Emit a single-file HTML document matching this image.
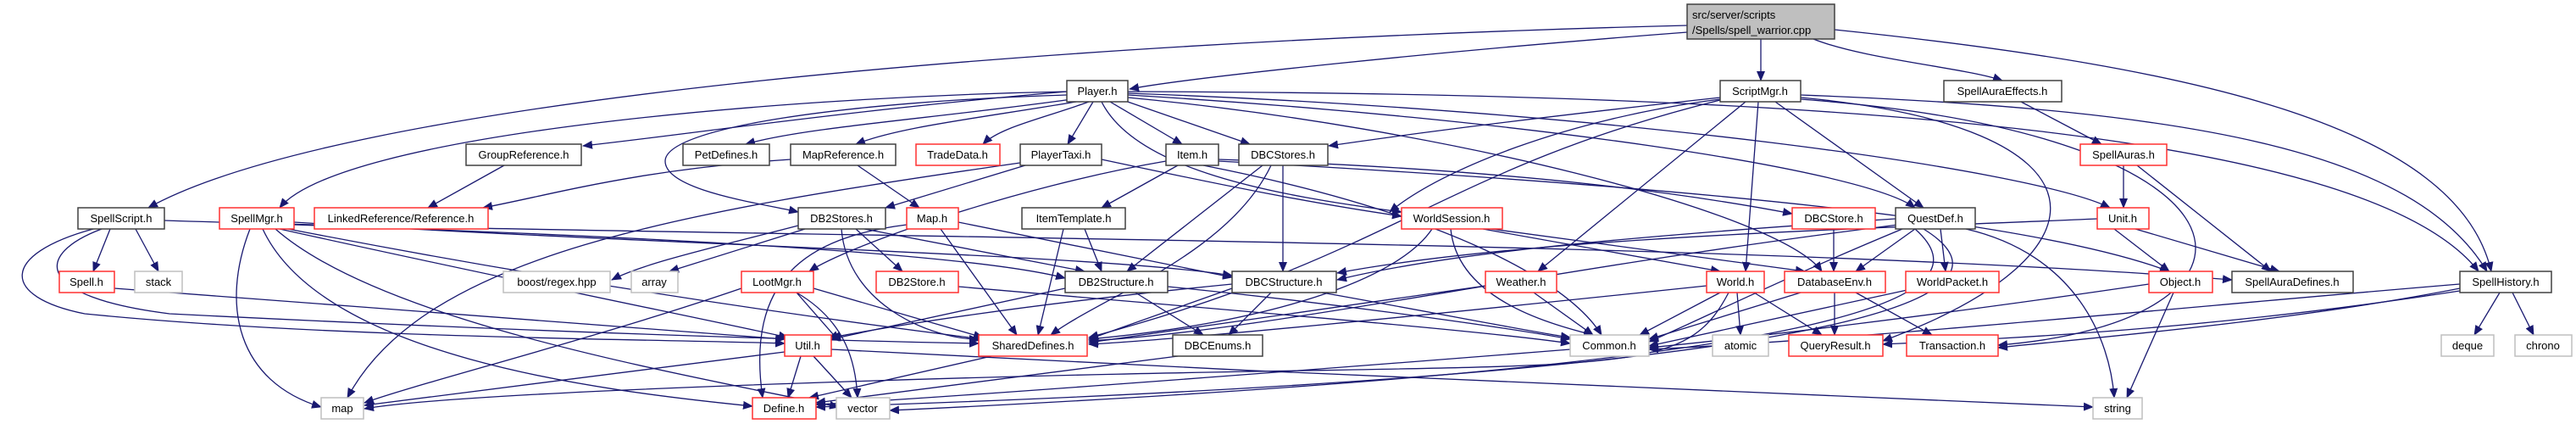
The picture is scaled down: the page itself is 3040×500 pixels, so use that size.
<!DOCTYPE html>
<html><head><meta charset="utf-8"><style>
html,body{margin:0;padding:0;background:#fff;width:3040px;height:500px;overflow:hidden}
svg text{font-family:"Liberation Sans",sans-serif;font-size:13px;fill:#000;text-anchor:middle}
.e{fill:none;stroke:#191970;stroke-width:1.3;marker-end:url(#a)}
.b rect{fill:#fff;stroke:#404040;stroke-width:1.5}
.r rect{fill:#fff;stroke:#ff3030;stroke-width:1.5}
.g rect{fill:#fff;stroke:#bfbfbf;stroke-width:1.5}
</style></head><body>
<svg width="3040" height="500" xmlns="http://www.w3.org/2000/svg">
<defs><marker id="a" markerWidth="12" markerHeight="10" refX="11" refY="5" orient="auto" markerUnits="userSpaceOnUse"><path d="M0,0 L12,5 L0,10 z" fill="#191970"/></marker></defs>
<g>
<path class="e" d="M1991,38 C1700,60 1400,92 1333,105"/>
<path class="e" d="M2078,46 L2078,95"/>
<path class="e" d="M2140,46 C2200,70 2320,80 2363,95"/>
<path class="e" d="M1991,30 C1200,50 400,120 175,245"/>
<path class="e" d="M2165,35 C2600,80 2900,150 2940,320"/>
<path class="e" d="M1259,108 C1000,130 800,160 688,172"/>
<path class="e" d="M1265,117 C1100,140 950,150 880,170"/>
<path class="e" d="M1270,120 C1150,140 1060,150 1010,170"/>
<path class="e" d="M1285,120 C1230,140 1180,150 1160,170"/>
<path class="e" d="M1290,120 L1260,170"/>
<path class="e" d="M1310,120 L1395,170"/>
<path class="e" d="M1325,118 L1475,170"/>
<path class="e" d="M1259,108 C900,115 400,160 330,245"/>
<path class="e" d="M1259,112 C1000,120 785,150 785,190 C785,225 900,240 942,250"/>
<path class="e" d="M1300,120 C1340,200 1500,230 1654,250"/>
<path class="e" d="M1331,112 C1800,140 2200,200 2260,245"/>
<path class="e" d="M1331,110 C1900,130 2400,200 2490,245"/>
<path class="e" d="M1331,108 C2200,110 2800,160 2925,320"/>
<path class="e" d="M1331,115 C1700,150 2100,250 2150,320"/>
<path class="e" d="M2030,115 C1800,140 1650,160 1568,172"/>
<path class="e" d="M2030,117 C1850,140 1700,200 1640,250"/>
<path class="e" d="M2060,120 L1815,320"/>
<path class="e" d="M2075,120 L2060,320"/>
<path class="e" d="M2095,120 L2270,245"/>
<path class="e" d="M2030,118 C1700,200 1650,300 1285,398"/>
<path class="e" d="M2125,112 C2600,130 2850,180 2935,320"/>
<path class="e" d="M2125,115 C2500,150 2500,300 2222,402"/>
<path class="e" d="M2125,117 C2700,160 2700,380 2358,407"/>
<path class="e" d="M2385,120 L2480,170"/>
<path class="e" d="M2506,195 L2506,245"/>
<path class="e" d="M2522,195 L2680,320"/>
<path class="e" d="M595,195 L505,245"/>
<path class="e" d="M933,188 C750,200 650,230 570,245"/>
<path class="e" d="M1012,195 L1085,245"/>
<path class="e" d="M1210,195 L1045,245"/>
<path class="e" d="M1204,192 C800,250 500,300 410,469"/>
<path class="e" d="M1300,188 C1450,220 1550,240 1654,255"/>
<path class="e" d="M1390,195 L1300,245"/>
<path class="e" d="M1376,190 C1200,220 1000,290 955,320"/>
<path class="e" d="M1438,188 C1800,200 2000,230 2115,252"/>
<path class="e" d="M1438,190 C2000,220 2400,260 2560,320"/>
<path class="e" d="M1420,195 C1700,250 1850,330 1890,395"/>
<path class="e" d="M1490,195 L1330,320"/>
<path class="e" d="M1514,195 L1514,320"/>
<path class="e" d="M1500,195 C1450,300 1300,350 1240,395"/>
<path class="e" d="M130,270 L110,320"/>
<path class="e" d="M160,270 L187,320"/>
<path class="e" d="M110,270 C0,300 0,350 100,370 C400,400 800,400 926,405"/>
<path class="e" d="M120,270 C40,300 40,350 200,370 C600,390 900,400 1155,405"/>
<path class="e" d="M194,260 C800,280 2000,280 2634,330"/>
<path class="e" d="M135,340 C400,360 800,390 926,400"/>
<path class="e" d="M295,270 C260,360 280,450 379,480"/>
<path class="e" d="M310,270 C380,420 700,460 888,479"/>
<path class="e" d="M330,270 C600,330 850,380 930,398"/>
<path class="e" d="M340,270 C700,340 1000,380 1160,400"/>
<path class="e" d="M347,262 C800,290 1300,300 1454,325"/>
<path class="e" d="M347,265 C800,280 1150,300 1257,328"/>
<path class="e" d="M325,270 C450,380 800,440 990,480"/>
<path class="e" d="M950,270 L790,320"/>
<path class="e" d="M942,266 C850,290 760,310 722,330"/>
<path class="e" d="M1010,270 L1065,320"/>
<path class="e" d="M1020,270 L1280,320"/>
<path class="e" d="M993,270 C1000,360 1100,400 1155,400"/>
<path class="e" d="M1070,265 C950,280 880,330 900,469"/>
<path class="e" d="M1110,270 L1200,395"/>
<path class="e" d="M1131,262 L1454,327"/>
<path class="e" d="M1280,270 L1300,320"/>
<path class="e" d="M1255,270 L1225,395"/>
<path class="e" d="M1750,270 L2030,320"/>
<path class="e" d="M1760,270 L2130,320"/>
<path class="e" d="M1712,270 C1720,350 1820,380 1880,395"/>
<path class="e" d="M1690,270 C1650,330 1500,380 1285,400"/>
<path class="e" d="M2164,270 L2164,320"/>
<path class="e" d="M2260,270 L2190,320"/>
<path class="e" d="M2290,270 L2296,320"/>
<path class="e" d="M2320,270 C2450,300 2490,400 2495,469"/>
<path class="e" d="M2270,270 C2400,350 2200,440 963,480"/>
<path class="e" d="M2260,270 C2350,350 2200,430 1050,484"/>
<path class="e" d="M2237,258 C1900,280 1700,300 1578,330"/>
<path class="e" d="M2240,265 C1800,320 1500,390 1285,402"/>
<path class="e" d="M2245,270 C2100,330 2000,380 1946,403"/>
<path class="e" d="M2495,270 L2560,320"/>
<path class="e" d="M2520,270 L2690,320"/>
<path class="e" d="M2475,258 C2200,270 1800,280 1578,322"/>
<path class="e" d="M940,345 L990,402"/>
<path class="e" d="M960,340 L1160,398"/>
<path class="e" d="M940,345 C1000,380 1010,430 1012,469"/>
<path class="e" d="M875,340 C700,400 500,450 430,475"/>
<path class="e" d="M1131,338 C1500,370 1750,390 1853,405"/>
<path class="e" d="M1340,345 L1420,395"/>
<path class="e" d="M1257,340 L981,400"/>
<path class="e" d="M1378,338 C1600,360 1800,390 1853,400"/>
<path class="e" d="M1500,345 L1450,395"/>
<path class="e" d="M1454,340 L1285,400"/>
<path class="e" d="M1454,335 C1200,360 1050,385 981,398"/>
<path class="e" d="M1560,345 C1700,370 1800,390 1853,398"/>
<path class="e" d="M1810,345 L1880,395"/>
<path class="e" d="M1753,337 L1285,404"/>
<path class="e" d="M2030,345 L1935,395"/>
<path class="e" d="M2050,345 L2054,395"/>
<path class="e" d="M2070,345 L2150,395"/>
<path class="e" d="M2014,337 C1700,370 1400,400 1285,406"/>
<path class="e" d="M2040,345 C1980,460 1900,420 1000,450 C700,460 500,470 430,482"/>
<path class="e" d="M2125,345 L1946,400"/>
<path class="e" d="M2165,345 L2165,395"/>
<path class="e" d="M2190,345 L2280,395"/>
<path class="e" d="M2260,340 L1946,408"/>
<path class="e" d="M2536,335 C2300,370 2050,400 1946,410"/>
<path class="e" d="M2565,345 L2510,469"/>
<path class="e" d="M2903,340 C2700,380 2450,400 2358,410"/>
<path class="e" d="M2903,335 C2600,360 2200,400 1946,412"/>
<path class="e" d="M2950,345 L2920,395"/>
<path class="e" d="M2965,345 L2990,395"/>
<path class="e" d="M2903,343 C2600,390 2350,400 2222,406"/>
<path class="e" d="M945,420 L930,469"/>
<path class="e" d="M960,420 L1005,469"/>
<path class="e" d="M926,415 L430,478"/>
<path class="e" d="M981,412 C1500,440 2200,470 2470,480"/>
<path class="e" d="M1170,420 L955,469"/>
<path class="e" d="M1390,420 L963,475"/>
<path class="e" d="M1853,412 C1500,440 1100,470 963,477"/>
</g>
<g class="g" transform="translate(1991,5)"><rect width="174" height="41" style="fill:#bfbfbf;stroke:#404040"/><text x="6" y="17" style="text-anchor:start">src/server/scripts</text><text x="6" y="35" style="text-anchor:start">/Spells/spell_warrior.cpp</text></g>
<g class="b"><rect x="1259" y="95" width="72" height="25"/><text x="1295" y="112">Player.h</text></g>
<g class="b"><rect x="2030" y="95" width="95" height="25"/><text x="2077" y="112">ScriptMgr.h</text></g>
<g class="b"><rect x="2294" y="95" width="139" height="25"/><text x="2363" y="112">SpellAuraEffects.h</text></g>
<g class="b"><rect x="550" y="170" width="136" height="25"/><text x="618" y="187">GroupReference.h</text></g>
<g class="b"><rect x="806" y="170" width="102" height="25"/><text x="857" y="187">PetDefines.h</text></g>
<g class="b"><rect x="933" y="170" width="124" height="25"/><text x="995" y="187">MapReference.h</text></g>
<g class="r"><rect x="1081" y="170" width="99" height="25"/><text x="1130" y="187">TradeData.h</text></g>
<g class="b"><rect x="1204" y="170" width="96" height="25"/><text x="1252" y="187">PlayerTaxi.h</text></g>
<g class="b"><rect x="1376" y="170" width="62" height="25"/><text x="1407" y="187">Item.h</text></g>
<g class="b"><rect x="1462" y="170" width="105" height="25"/><text x="1514" y="187">DBCStores.h</text></g>
<g class="r"><rect x="2455" y="170" width="102" height="25"/><text x="2506" y="187">SpellAuras.h</text></g>
<g class="b"><rect x="92" y="245" width="102" height="25"/><text x="143" y="262">SpellScript.h</text></g>
<g class="r"><rect x="259" y="245" width="88" height="25"/><text x="303" y="262">SpellMgr.h</text></g>
<g class="r"><rect x="371" y="245" width="205" height="25"/><text x="473" y="262">LinkedReference/Reference.h</text></g>
<g class="b"><rect x="942" y="245" width="103" height="25"/><text x="993" y="262">DB2Stores.h</text></g>
<g class="r"><rect x="1070" y="245" width="61" height="25"/><text x="1100" y="262">Map.h</text></g>
<g class="b"><rect x="1206" y="245" width="122" height="25"/><text x="1267" y="262">ItemTemplate.h</text></g>
<g class="r"><rect x="1654" y="245" width="119" height="25"/><text x="1713" y="262">WorldSession.h</text></g>
<g class="r"><rect x="2115" y="245" width="98" height="25"/><text x="2164" y="262">DBCStore.h</text></g>
<g class="b"><rect x="2237" y="245" width="94" height="25"/><text x="2284" y="262">QuestDef.h</text></g>
<g class="r"><rect x="2475" y="245" width="61" height="25"/><text x="2505" y="262">Unit.h</text></g>
<g class="r"><rect x="70" y="320" width="65" height="25"/><text x="102" y="337">Spell.h</text></g>
<g class="g"><rect x="159" y="320" width="56" height="25"/><text x="187" y="337">stack</text></g>
<g class="g"><rect x="594" y="320" width="126" height="25"/><text x="657" y="337">boost/regex.hpp</text></g>
<g class="g"><rect x="745" y="320" width="55" height="25"/><text x="772" y="337">array</text></g>
<g class="r"><rect x="875" y="320" width="85" height="25"/><text x="917" y="337">LootMgr.h</text></g>
<g class="r"><rect x="1034" y="320" width="97" height="25"/><text x="1082" y="337">DB2Store.h</text></g>
<g class="b"><rect x="1257" y="320" width="121" height="25"/><text x="1317" y="337">DB2Structure.h</text></g>
<g class="b"><rect x="1454" y="320" width="123" height="25"/><text x="1515" y="337">DBCStructure.h</text></g>
<g class="r"><rect x="1753" y="320" width="84" height="25"/><text x="1795" y="337">Weather.h</text></g>
<g class="r"><rect x="2014" y="320" width="68" height="25"/><text x="2048" y="337">World.h</text></g>
<g class="r"><rect x="2106" y="320" width="119" height="25"/><text x="2165" y="337">DatabaseEnv.h</text></g>
<g class="r"><rect x="2249" y="320" width="110" height="25"/><text x="2304" y="337">WorldPacket.h</text></g>
<g class="r"><rect x="2536" y="320" width="75" height="25"/><text x="2573" y="337">Object.h</text></g>
<g class="b"><rect x="2634" y="320" width="143" height="25"/><text x="2705" y="337">SpellAuraDefines.h</text></g>
<g class="b"><rect x="2903" y="320" width="108" height="25"/><text x="2957" y="337">SpellHistory.h</text></g>
<g class="r"><rect x="926" y="395" width="55" height="25"/><text x="953" y="412">Util.h</text></g>
<g class="r"><rect x="1155" y="395" width="128" height="25"/><text x="1219" y="412">SharedDefines.h</text></g>
<g class="b"><rect x="1384" y="395" width="106" height="25"/><text x="1437" y="412">DBCEnums.h</text></g>
<g class="g"><rect x="1853" y="395" width="93" height="25"/><text x="1899" y="412">Common.h</text></g>
<g class="g"><rect x="2021" y="395" width="66" height="25"/><text x="2054" y="412">atomic</text></g>
<g class="r"><rect x="2111" y="395" width="111" height="25"/><text x="2166" y="412">QueryResult.h</text></g>
<g class="r"><rect x="2250" y="395" width="108" height="25"/><text x="2304" y="412">Transaction.h</text></g>
<g class="g"><rect x="2881" y="395" width="62" height="25"/><text x="2912" y="412">deque</text></g>
<g class="g"><rect x="2968" y="395" width="67" height="25"/><text x="3001" y="412">chrono</text></g>
<g class="g"><rect x="379" y="469" width="50" height="25"/><text x="404" y="486">map</text></g>
<g class="r"><rect x="888" y="469" width="75" height="25"/><text x="925" y="486">Define.h</text></g>
<g class="g"><rect x="987" y="469" width="63" height="25"/><text x="1018" y="486">vector</text></g>
<g class="g"><rect x="2470" y="469" width="58" height="25"/><text x="2499" y="486">string</text></g>
</svg>
</body></html>
